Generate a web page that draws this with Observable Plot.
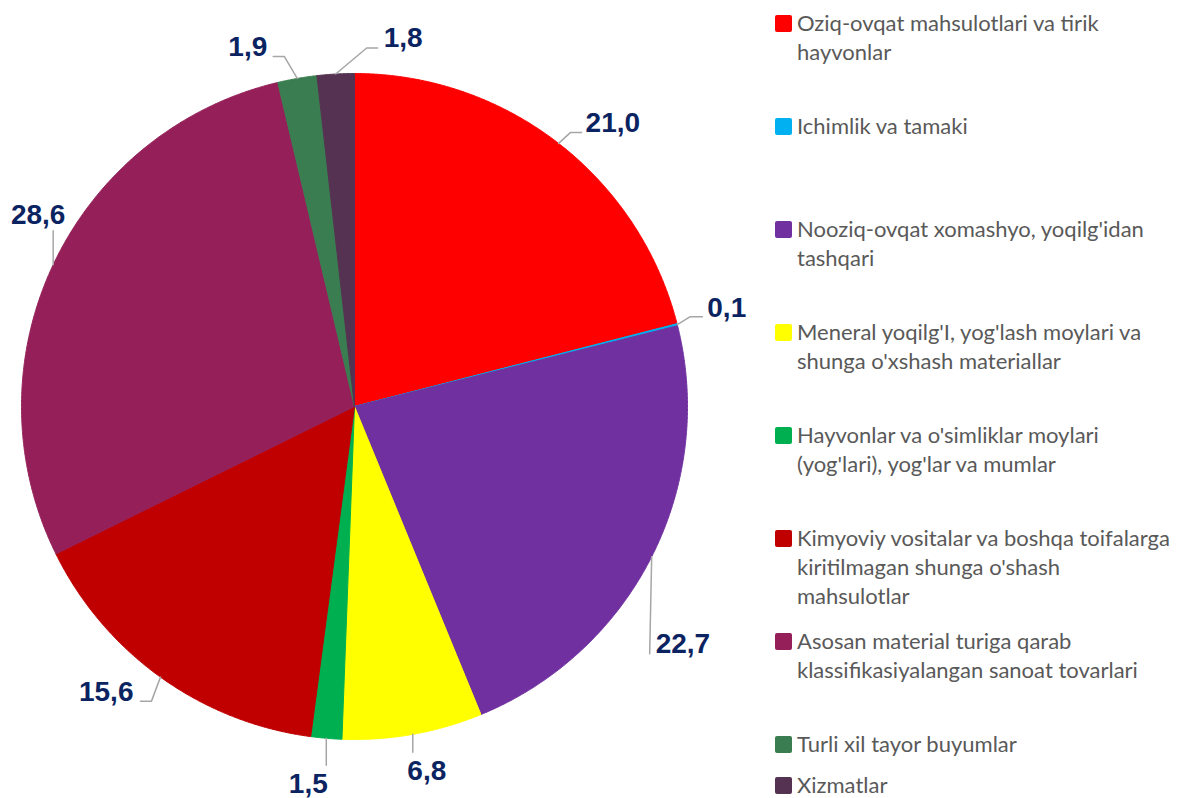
<!DOCTYPE html>
<html>
<head>
<meta charset="utf-8">
<script src="https://cdn.jsdelivr.net/npm/d3@7"></script>
<script src="https://cdn.jsdelivr.net/npm/@observablehq/plot@0.6"></script>
<style>
  html, body { margin: 0; padding: 0; background: #fff; }
  #wrap { position: relative; width: 1177px; height: 798px; overflow: hidden; }
  #legend { position: absolute; left: 0; top: 0; width: 1177px; height: 798px; pointer-events: none; }
  .line { position: absolute; left: 797px; font-family: Lato, "Open Sans", sans-serif; font-size: 22px; line-height: 22px; height: 22px; color: #595959; white-space: nowrap; }
  .sw { position: absolute; left: 775px; width: 17px; height: 17px; border-radius: 2px; }
</style>
</head>
<body>
<div id="wrap"><div id="chart"></div><div id="legend"></div></div>
<script>
// ---- data ----
const categories = [
  "Oziq-ovqat mahsulotlari va tirik hayvonlar",
  "Ichimlik va tamaki",
  "Nooziq-ovqat xomashyo, yoqilg'idan tashqari",
  "Meneral yoqilg'I, yog'lash moylari va shunga o'xshash materiallar",
  "Hayvonlar va o'simliklar moylari (yog'lari), yog'lar va mumlar",
  "Kimyoviy vositalar va boshqa toifalarga kiritilmagan shunga o'shash mahsulotlar",
  "Asosan material turiga qarab klassifikasiyalangan sanoat tovarlari",
  "Turli xil tayor buyumlar",
  "Xizmatlar"
];
const values = [21.0, 0.1, 22.7, 6.8, 1.5, 15.6, 28.6, 1.9, 1.8];
const legendLines = [
  ["Oziq-ovqat mahsulotlari va tirik", "hayvonlar"],
  ["Ichimlik va tamaki"],
  ["Nooziq-ovqat xomashyo, yoqilg'idan", "tashqari"],
  ["Meneral yoqilg'I, yog'lash moylari va", "shunga o'xshash materiallar"],
  ["Hayvonlar va o'simliklar moylari", "(yog'lari), yog'lar va mumlar"],
  ["Kimyoviy vositalar va boshqa toifalarga", "kiritilmagan shunga o'shash", "mahsulotlar"],
  ["Asosan material turiga qarab", "klassifikasiyalangan sanoat tovarlari"],
  ["Turli xil tayor buyumlar"],
  ["Xizmatlar"]
];

// ---- style / layout ----
const colors = ["#FF0000", "#00B0F0", "#7030A0", "#FFFF00", "#00B050", "#C00000", "#952059", "#3A7D50", "#553252"];
const W = 1177, H = 798, cx = 354, cy = 406, R = 333;
// leader: elbow and end offsets (px) from the slice's edge anchor; text offset and anchor
const elbowOff = [[12,-11],[13,-8],[-2,97],[0,18],[0,27],[-9,24],[0,-34],[-13,-22],[31,-26]];
const endOff   = [[23,-11],[25,-8],[-2,97],[0,18],[0,27],[-20,24],[0,-34],[-24,-22],[42,-26]];
const textOff  = [[27,-20],[30,-17],[4,87],[14,37],[-18,46],[-27,15],[-15,-50],[-30,-31],[48,-36]];
const textAnchor = ["start","start","start","middle","middle","end","middle","end","start"];
const legendTop = [23, 126, 229, 332, 435, 538, 641, 744, 785];
const legendLineGap = 29;

// ---- build geometry from values ----
const arcs = d3.pie().sort(null).value(d => d)(values);
const pts = [];
arcs.forEach((a, i) => {
  const cat = categories[i];
  pts.push({cat, x: 0, y: 0});
  const n = Math.max(2, Math.ceil((a.endAngle - a.startAngle) / 0.004));
  for (let k = 0; k <= n; k++) {
    const t = a.startAngle + (a.endAngle - a.startAngle) * k / n;
    pts.push({cat, x: Math.sin(t), y: Math.cos(t)});
  }
  pts.push({cat, x: 0, y: 0});
});

const leaders = [];
const labels = [];
arcs.forEach((a, i) => {
  const m = (a.startAngle + a.endAngle) / 2;
  const ax = Math.sin(m), ay = Math.cos(m);
  const p = (o) => ({x: ax + o[0] / R, y: ay - o[1] / R});
  [{x: ax, y: ay}, p(elbowOff[i]), p(endOff[i])].forEach(q => leaders.push({i, ...q}));
  const t = p(textOff[i]);
  labels.push({i, x: t.x, y: t.y, text: values[i].toFixed(1).replace(".", ","), anchor: textAnchor[i]});
});

const chart = Plot.plot({
  width: W, height: H,
  margin: 0,
  x: {domain: [-cx / R, (W - cx) / R], axis: null},
  y: {domain: [-(H - cy) / R, cy / R], axis: null},
  color: {domain: categories, range: colors},
  style: {background: "#fff"},
  marks: [
    Plot.line(pts, {x: "x", y: "y", z: "cat", fill: "cat", stroke: "cat", strokeWidth: 1, curve: "linear"}),
    Plot.line(leaders, {x: "x", y: "y", z: "i", stroke: "#A6A6A6", strokeWidth: 1.5, curve: "linear"}),
    ...["start","middle","end"].map(an => Plot.text(labels.filter(d => d.anchor === an), {
      x: "x", y: "y", text: "text", textAnchor: an,
      fill: "#0B2461", fontSize: 28, fontWeight: "bold",
      fontFamily: "'Liberation Sans', Arial, sans-serif"
    }))
  ]
});
document.getElementById("chart").appendChild(chart);

// ---- legend ----
const lg = document.getElementById("legend");
categories.forEach((c, i) => {
  const sw = document.createElement("div");
  sw.className = "sw";
  sw.style.background = colors[i];
  sw.style.top = (legendTop[i] - 8.5) + "px";
  lg.appendChild(sw);
  legendLines[i].forEach((s, k) => {
    const ln = document.createElement("div");
    ln.className = "line";
    ln.style.top = (legendTop[i] - 11 + k * legendLineGap) + "px";
    ln.textContent = s;
    lg.appendChild(ln);
  });
});
</script>
</body>
</html>
